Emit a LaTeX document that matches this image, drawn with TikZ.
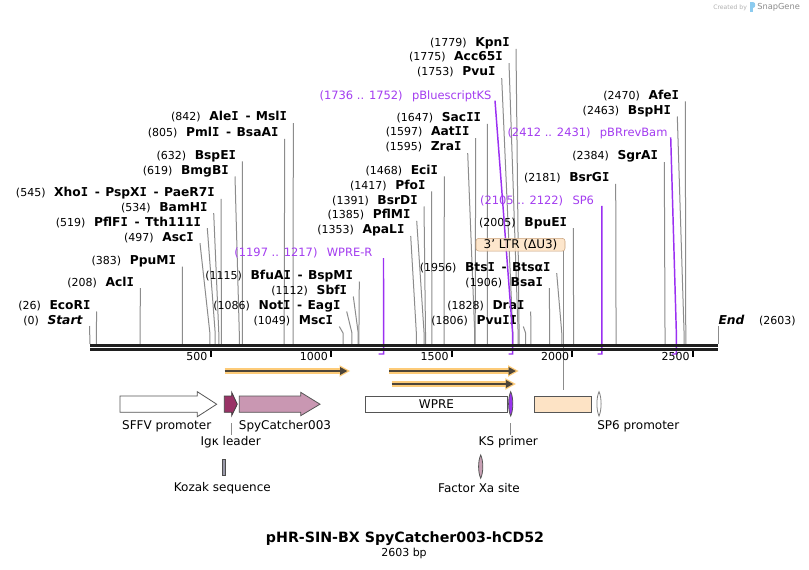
\documentclass[tikz,border=0pt]{standalone}
\usepackage{fontspec}
\setmainfont{DejaVu Sans}
\newfontfamily\monofam{DejaVu Sans Mono}
\usetikzlibrary{arrows.meta}
\definecolor{cutgray}{HTML}{8C8C8C}
\definecolor{primc}{HTML}{9B30F2}
\definecolor{primt}{HTML}{A33CF0}
\definecolor{orfo}{HTML}{FDCB78}
\definecolor{orfd}{HTML}{4D4539}
\definecolor{ltrc}{HTML}{FDE3C5}
\definecolor{ltrb}{HTML}{C9A27C}
\definecolor{igk}{HTML}{993366}
\definecolor{spyc}{HTML}{C997B2}
\definecolor{featb}{HTML}{555555}
\definecolor{kozak}{HTML}{9A9AAA}
\definecolor{fxa}{HTML}{C8A0B4}
\definecolor{ksp}{HTML}{9933EE}
\definecolor{sglogo}{HTML}{8CCBEF}
\newcommand\rfnt{\fontsize{8.25pt}{9pt}\selectfont}
\newcommand\bfnt{\fontsize{9.2pt}{10pt}\selectfont\bfseries}
\newcommand\pfnt{\fontsize{8.6pt}{10pt}\selectfont}
\newcommand\ffnt{\fontsize{9pt}{10pt}\selectfont}
\newcommand\dsh{\hspace{5pt}-\hspace{4pt}}
\newcommand\Ii{{\monofam I}}
\newcommand\bpx[1]{90+0.2412*#1}
\tikzset{
 cut/.style={draw=cutgray,line width=0.75pt},
 lbl/.style={inner sep=0pt,anchor=base east},
 prim/.style={draw=primc,line width=1.1pt},
 feat/.style={draw=featb,line width=0.6pt},
 flbl/.style={inner sep=0pt,font=\ffnt},
 orfglow/.style={line width=4.5pt,draw=orfo},
 orfline/.style={line width=1.5pt,draw=orfd,-{Triangle[length=5.5pt,width=5.5pt]}},
 bb/.style={line width=2pt,draw=black!88}
}
\newcommand\enz[4]{%
 \node[lbl] (e#3) at ({#2-6},{#1+4.3}) {{\rfnt(#3)}\hspace{6.5pt}{\bfnt #4}};
 \draw[cut] (#2,{#1+6.5}) -- ({\bpx{#3}},333) -- ({\bpx{#3}},344);}
\newcommand\prm[7]{%
 \node[lbl,text=primt] (p#5) at (#2,{#1+4.3}) {\pfnt(#5 .. #6)\hspace{7pt}#7};
 \draw[prim] (#3,#4) -- ({\bpx{#6}},333) -- ({\bpx{#6}},354) -- ({\bpx{#5}},354);}
\newcommand\leaf[5]{%
 \draw[#5] (#1,#2) .. controls ({#1+#4},{#2+6}) and ({#1+#4},{#3-6}) .. (#1,#3) .. controls ({#1-#4},{#3-6}) and ({#1-#4},{#2+6}) .. cycle;}
\newcommand\orf[4]{%
 \draw[orfglow] (#1,#3) -- ({#2-5},#3);
 \fill[orfo] ({#2-8},{#3-5.8}) -- ({#2+2.5},#3) -- ({#2-8},{#3+5.8}) -- cycle;
 \draw[orfline] (#1,#3) -- (#2,#3);}
\begin{document}
\begin{tikzpicture}[x=0.75pt,y=-0.75pt]
\fill[white] (0,0) rectangle (809,570);
\useasboundingbox (0,0) rectangle (809,570);

% logo
\node[inner sep=0pt,anchor=base west,font=\fontsize{4.6pt}{5pt}\selectfont,text=black!30] (cb) at (713,10) {Created by};
\fill[sglogo] (750,2.5) rectangle (752.5,12.5);
\fill[sglogo] (752.5,2.5) .. controls (756,2.5) and (756,8) .. (752.5,8) -- cycle;
\node[inner sep=0pt,anchor=base west,font=\fontsize{6.2pt}{7pt}\selectfont,text=black!45] (sg) at (757,10) {SnapGene};

% 3' LTR feature + connector
\node[inner sep=0pt,minimum width=43pt,minimum height=11.7pt,feat,fill=ltrc] (ltrf) at (563,404.5) {};
\draw[cut] (563,251) -- ([yshift=4.5pt]ltrf.north);

% enzymes
\node[lbl] (e0) at (82.7,324.3) {{\rfnt(0)}\hspace{6.5pt}{\bfnt\itshape Start}};
\draw[cut] (89.5,326) -- (90,344);
\enz{305}{96.7}{26}{EcoR\Ii}
\enz{281.7}{140.3}{208}{Acl\Ii}
\enz{260}{182.3}{383}{PpuM\Ii}
\enz{236.7}{200}{497}{Asc\Ii}
\enz{221.7}{207.3}{519}{PflF\Ii\dsh Tth111\Ii}
\enz{206.7}{213.7}{534}{BamH\Ii}
\enz{192.3}{221}{545}{Xho\Ii\dsh PspX\Ii\dsh PaeR7\Ii}
\enz{170}{235}{619}{BmgB\Ii}
\enz{155}{242.3}{632}{BspE\Ii}
\enz{132.3}{284.7}{805}{Pml\Ii\dsh BsaA\Ii}
\enz{116.7}{293.3}{842}{Ale\Ii\dsh Msl\Ii}
\enz{320}{339.3}{1049}{Msc\Ii}
\enz{305}{346.7}{1086}{Not\Ii\dsh Eag\Ii}
\enz{290}{353.3}{1112}{Sbf\Ii}
\enz{275}{359.3}{1115}{BfuA\Ii\dsh BspM\Ii}
\enz{229.5}{410.7}{1353}{ApaL\Ii}
\enz{214.3}{416.7}{1385}{PflM\Ii}
\enz{200}{424}{1391}{BsrD\Ii}
\enz{185}{431.7}{1417}{Pfo\Ii}
\enz{170}{444.3}{1468}{Eci\Ii}
\enz{146.7}{467.7}{1595}{Zra\Ii}
\enz{131.7}{475.7}{1597}{Aat\Ii\Ii}
\enz{117.3}{487.3}{1647}{Sac\Ii\Ii}
\enz{71.7}{501.7}{1753}{Pvu\Ii}
\enz{56.7}{509}{1775}{Acc65\Ii}
\enz{42.3}{516}{1779}{Kpn\Ii}
\enz{320}{523.3}{1806}{Pvu\Ii\Ii}
\enz{305}{530.7}{1828}{Dra\Ii}
\enz{281.7}{549.3}{1906}{Bsa\Ii}
\enz{266.7}{556.7}{1956}{Bts\Ii\dsh Btsα\Ii}
\enz{221.7}{573.3}{2005}{BpuE\Ii}
\enz{177.3}{615.7}{2181}{BsrG\Ii}
\enz{155.7}{664.3}{2384}{SgrA\Ii}
\enz{110}{677.3}{2463}{BspH\Ii}
\enz{95}{685.3}{2470}{Afe\Ii}
\node[inner sep=0pt,anchor=base west] (e2603) at (718.3,324.3) {{\bfnt\itshape End}\hspace{11pt}{\rfnt(2603)}};
\draw[cut] (718.3,326) -- (718.3,344);

% primers
\prm{252.3}{372.7}{383.5}{258}{1197}{1217}{WPRE-R}
\prm{95}{491.7}{495}{100.7}{1736}{1752}{pBluescriptKS}
\prm{200}{594.3}{601.8}{206}{2105}{2122}{SP6}
\prm{132.3}{667.7}{670.7}{137.3}{2412}{2431}{pBRrevBam}

% 3' LTR label (drawn over the cut lines)
\node[draw=ltrb,fill=ltrc,fill opacity=0.88,text opacity=1,rounded corners=2pt,inner sep=0pt,minimum width=66.75pt,minimum height=9.5pt,font=\ffnt] (ltr) at (520.5,244.7) {3' LTR (ΔU3)};

% backbone
\draw[bb] (90,345.3) -- (718.3,345.3);
\draw[bb] (90,349.7) -- (718.3,349.7);
\foreach \t in {500,1000,1500,2000,2500} {
 \draw[line width=1.5pt,black] ({\bpx{\t}},351) -- ({\bpx{\t}},356.7);
 \node[lbl] at ({\bpx{\t}-3},360.7) {\rfnt\t};
}

% ORFs
\orf{224.5}{347.5}{371}{}
\orf{389}{516}{371}{}
\orf{391.5}{513.3}{384}{}

% features
\draw[feat,fill=white] (120,396) -- (197.3,396) -- (197.3,391.7) -- (216.7,404.2) -- (197.3,416.7) -- (197.3,412.3) -- (120,412.3) -- cycle;
\draw[feat,fill=igk,draw=black!75] (224.3,396) -- (231.7,396) -- (231.7,392.3) -- (237.3,404.2) -- (231.7,415.7) -- (231.7,412.3) -- (224.3,412.3) -- cycle;
\draw[feat,fill=spyc] (239.3,396) -- (300.7,396) -- (300.7,392.3) -- (320,404.2) -- (300.7,415.7) -- (300.7,412.3) -- (239.3,412.3) -- cycle;
\node[feat,fill=white,inner sep=0pt,minimum width=106.2pt,minimum height=12.2pt,font=\ffnt] (wpre) at (436.5,404.2) {WPRE};
\leaf{510.7}{391.7}{416}{2.8}{feat,fill=ksp}
\leaf{599}{391.7}{416}{2.8}{feat,fill=white,draw=black!50}
\draw[feat,fill=kozak,draw=black!70] (222.3,459) rectangle (225.7,475);
\leaf{480.7}{455}{478.3}{2.8}{feat,fill=fxa}

% feature labels
\node[flbl] (lsffv) at (166.7,426) {SFFV promoter};
\node[flbl] (lspy) at (285,426) {SpyCatcher003};
\node[flbl] (ligk) at (230.7,441.7) {Igκ leader};
\draw[cut] (231.7,423.3) -- (231.7,435);
\node[flbl] (lkoz) at (222.3,488.3) {Kozak sequence};
\node[flbl] (lks) at (508.3,441.7) {KS primer};
\draw[cut] (510.7,423.3) -- (510.7,435);
\node[flbl] (lsp6) at (638.3,426) {SP6 promoter};
\node[flbl] (lfxa) at (479,488.3) {Factor Xa site};

% title
\node[inner sep=0pt,font=\fontsize{10.65pt}{12pt}\selectfont\bfseries] (title) at (405,539) {pHR-SIN-BX SpyCatcher003-hCD52};
\node[inner sep=0pt,font=\rfnt] (size) at (404,553.3) {2603 bp};
\end{tikzpicture}
\end{document}
